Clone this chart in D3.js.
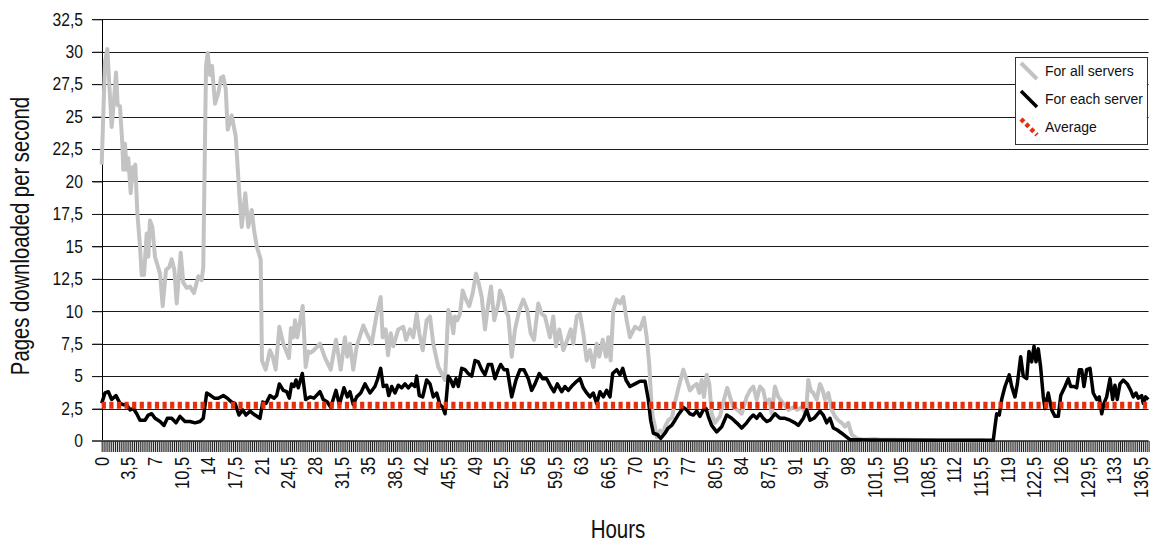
<!DOCTYPE html>
<html>
<head>
<meta charset="utf-8">
<script src="https://cdn.jsdelivr.net/npm/d3@7"></script>
<style>
  html, body { margin: 0; padding: 0; background: #fff; }
  svg { display: block; font-family: "Liberation Sans", Arial, sans-serif; }
</style>
</head>
<body>
<svg id="chart" width="1154" height="545"></svg>
<script>
// ---- data (hours, pages downloaded per second) ----
const allServers = [[0,21.3],[0.43,29.2],[0.74,30.2],[1.31,24.2],[1.62,26.3],[1.88,28.4],[2.1,25.9],[2.4,25.8],[2.71,22.9],[2.84,20.9],[3.06,22.9],[3.28,20.9],[3.49,21.8],[3.81,19.1],[4.07,21.1],[4.28,20.1],[4.41,21.3],[4.68,17.6],[5.03,15.0],[5.25,12.8],[5.56,12.8],[5.91,16.0],[6.12,14.2],[6.34,17.0],[6.65,16.5],[7.0,14.2],[7.66,12.9],[8.01,10.4],[8.45,13.2],[8.88,13.4],[9.19,14.0],[9.54,13.2],[9.85,10.6],[10.38,14.5],[10.72,12.2],[11.16,11.8],[11.6,11.9],[12.12,11.4],[12.69,12.7],[13.13,12.4],[13.34,13.4],[13.7,28.9],[13.92,29.9],[14.22,28.2],[14.49,28.9],[14.88,26.0],[15.31,26.8],[15.67,28.0],[15.97,28.1],[16.29,27.1],[16.55,24.0],[17.07,25.1],[17.6,23.5],[18.07,19.1],[18.39,16.5],[18.86,19.1],[19.25,16.5],[19.7,17.8],[20.0,16.3],[20.36,15.0],[20.88,14.0],[21.05,6.2],[21.54,5.5],[22.1,7.0],[22.46,6.5],[22.85,5.5],[23.33,8.8],[23.85,7.5],[24.6,6.4],[24.86,8.7],[25.16,8.0],[25.39,9.3],[25.69,8.0],[26.4,10.4],[26.79,5.7],[27.13,6.9],[27.45,6.8],[27.88,7.0],[28.67,7.5],[29.33,6.4],[30.08,5.5],[30.77,7.8],[31.39,5.5],[31.95,8.0],[32.26,6.5],[32.61,7.5],[33.04,5.5],[33.49,7.3],[34.36,8.9],[34.8,8.3],[35.46,7.5],[36.12,9.8],[36.64,11.1],[36.9,8.0],[37.3,8.6],[37.6,6.6],[37.96,8.3],[38.3,7.3],[38.95,8.6],[39.61,8.8],[39.97,7.8],[40.49,8.6],[40.92,8.0],[41.37,9.8],[41.71,8.3],[42.16,7.0],[42.68,9.3],[43.12,9.6],[43.55,7.5],[44.21,5.7],[44.65,5.2],[45.09,4.7],[45.52,10.1],[45.84,9.6],[46.18,8.3],[46.4,9.6],[46.7,9.3],[47.06,9.8],[47.41,11.6],[47.85,10.9],[48.28,10.4],[48.73,11.4],[49.16,12.9],[49.46,12.3],[49.91,11.1],[50.34,8.6],[50.77,10.6],[51.13,11.9],[51.56,9.3],[52.09,10.6],[52.31,11.6],[52.67,11.1],[53.01,10.1],[53.4,9.6],[53.85,6.5],[54.28,8.6],[54.85,10.1],[55.37,10.9],[55.9,10.1],[56.34,8.3],[56.78,7.8],[57.34,10.6],[57.79,9.8],[58.22,9.6],[58.88,8.0],[59.31,9.6],[59.67,7.3],[60.1,8.6],[60.63,7.0],[61.15,7.8],[61.6,8.6],[61.94,7.5],[62.39,9.6],[62.82,9.8],[63.25,8.3],[63.7,6.2],[64.13,7.0],[64.57,5.7],[65.01,7.5],[65.35,6.5],[65.8,7.8],[66.23,6.5],[66.54,8.0],[66.85,6.2],[67.19,10.1],[67.64,10.9],[68.07,10.6],[68.5,11.1],[68.95,9.3],[69.38,8.0],[70.04,8.8],[70.7,8.6],[71.22,9.5],[71.58,8.0],[71.9,6.0],[72.2,3.0],[72.37,1.9],[72.67,1.1],[72.89,0.3],[73.33,0.8],[73.76,0.6],[73.98,1.1],[74.42,1.6],[74.9,1.8],[75.3,3.0],[75.8,4.2],[76.39,5.5],[76.83,4.7],[77.26,3.9],[77.7,4.2],[78.15,4.4],[78.49,3.7],[78.8,4.7],[79.1,3.4],[79.46,5.1],[79.8,4.4],[80.11,2.1],[80.55,1.4],[81.2,1.9],[81.73,3.2],[82.16,4.1],[82.52,3.4],[82.95,2.6],[83.48,2.4],[84.06,2.1],[84.71,3.4],[85.15,3.9],[85.58,4.2],[86.03,3.2],[86.46,4.2],[86.89,3.9],[87.25,2.9],[87.68,3.2],[88.0,2.1],[88.43,4.2],[88.86,3.4],[89.52,2.9],[90.18,2.4],[90.83,2.6],[91.36,2.4],[91.94,2.6],[92.5,2.1],[92.8,4.7],[93.12,3.9],[93.46,3.7],[93.91,3.2],[94.34,4.4],[94.7,3.9],[95.0,3.2],[95.44,3.7],[95.88,2.4],[96.31,1.9],[96.74,1.6],[97.19,1.4],[97.62,1.1],[98.06,1.4],[98.5,0.5],[99.16,0.2],[100,0.1],[101.5,0.15],[102.2,0.1],[105,0.1],[110,0.05],[116,0.05]];

const eachServer = [[0,2.9],[0.43,3.7],[0.87,3.8],[1.31,3.2],[1.88,3.5],[2.4,2.9],[2.84,2.8],[3.28,2.8],[3.72,2.4],[4.15,2.5],[4.6,2.1],[5.03,1.6],[5.69,1.6],[6.12,2.0],[6.57,2.1],[7.0,1.75],[7.66,1.5],[8.18,1.2],[8.62,1.75],[9.19,1.75],[9.76,1.4],[10.28,1.9],[10.94,1.5],[11.6,1.5],[12.25,1.4],[12.91,1.5],[13.34,1.75],[13.79,3.7],[14.32,3.5],[14.79,3.3],[15.31,3.3],[15.97,3.5],[16.5,3.3],[17.07,3.0],[17.51,2.9],[18.03,2.0],[18.52,2.4],[18.95,2.0],[19.48,2.3],[20.13,2.0],[20.79,1.75],[21.15,3.0],[21.58,2.9],[22.1,3.5],[22.63,3.3],[22.98,3.5],[23.33,4.4],[23.85,3.9],[24.3,3.8],[24.64,3.3],[24.95,4.4],[25.26,4.2],[25.52,4.7],[25.82,4.1],[26.35,5.2],[26.79,3.2],[27.36,3.4],[27.88,3.3],[28.67,3.8],[29.1,3.2],[29.63,3.0],[30.08,2.6],[30.77,3.9],[31.21,2.8],[31.82,4.1],[32.26,3.4],[32.61,3.8],[33.04,2.8],[33.49,3.4],[34.02,3.7],[34.58,4.4],[35.24,3.7],[35.89,4.2],[36.2,4.7],[36.64,5.6],[36.98,4.2],[37.43,4.3],[37.7,3.5],[38.09,4.2],[38.52,3.7],[38.95,4.3],[39.4,4.1],[39.83,4.4],[40.27,4.1],[40.71,4.4],[41.15,4.2],[41.37,5.0],[41.71,3.5],[42.16,3.4],[42.68,4.7],[43.12,4.4],[43.55,3.4],[44.0,3.7],[44.43,2.8],[44.79,2.6],[45.09,2.1],[45.52,5.0],[45.84,4.7],[46.18,4.2],[46.53,4.8],[46.84,4.2],[47.28,5.6],[47.71,5.5],[48.15,5.2],[48.6,5.0],[49.03,6.2],[49.46,6.1],[49.91,5.5],[50.34,5.1],[50.77,5.9],[51.22,5.9],[51.65,4.8],[52.09,5.5],[52.4,5.9],[52.84,5.5],[53.27,5.5],[53.85,3.4],[54.41,4.7],[54.94,5.5],[55.46,5.5],[56.03,4.8],[56.47,3.9],[56.91,4.4],[57.47,5.2],[57.92,4.8],[58.44,4.8],[58.97,4.2],[59.4,3.8],[59.84,4.4],[60.41,3.8],[60.85,4.2],[61.28,3.9],[61.86,4.3],[62.39,4.6],[62.82,4.8],[63.25,4.1],[63.7,3.7],[64.13,3.4],[64.57,3.7],[65.01,2.9],[65.44,3.8],[65.88,3.4],[66.32,3.9],[66.76,3.4],[67.11,5.2],[67.64,5.5],[68.07,5.1],[68.43,5.6],[68.86,4.7],[69.38,4.2],[70.04,4.4],[70.7,4.6],[71.36,4.6],[71.79,3.2],[72.1,1.6],[72.45,0.6],[72.97,0.5],[73.42,0.2],[73.98,0.6],[74.4,1.0],[74.85,1.2],[75.3,1.6],[75.7,2.0],[76.2,2.4],[76.39,2.6],[76.83,2.4],[77.26,2.1],[77.7,2.0],[78.15,2.3],[78.57,1.9],[79.01,2.4],[79.37,2.5],[79.67,1.9],[80.11,1.2],[80.77,0.7],[81.43,1.1],[82.09,2.0],[82.74,1.75],[83.4,1.4],[84.06,1.0],[84.71,1.4],[85.15,1.75],[85.58,2.0],[86.03,1.75],[86.46,2.1],[86.89,1.75],[87.34,1.5],[87.77,1.6],[88.43,2.1],[89.08,1.75],[89.74,1.75],[90.4,1.6],[91.06,1.4],[91.49,1.2],[92.15,1.75],[92.59,2.4],[93.03,1.6],[93.55,1.75],[93.91,2.0],[94.34,2.3],[94.77,2.0],[95.22,1.4],[95.65,1.75],[96.09,1.0],[96.61,0.85],[97.19,0.6],[97.85,0.3],[98.28,0.1],[99.16,0.1],[101,0.08],[110,0.05],[117.1,0.05],[117.32,1.1],[117.55,2.1],[117.89,2.0],[118.2,3.2],[118.64,4.2],[119.2,5.1],[119.52,4.2],[119.95,3.4],[120.26,4.4],[120.7,6.5],[121.04,5.0],[121.49,4.8],[121.79,6.9],[122.14,6.1],[122.45,7.3],[122.71,6.1],[123.01,7.1],[123.32,5.7],[123.67,3.4],[123.89,2.5],[124.32,3.7],[124.77,2.4],[125.2,1.9],[125.64,1.9],[125.96,3.5],[126.52,4.2],[126.95,4.8],[127.27,4.2],[127.7,4.2],[128.05,4.1],[128.4,5.5],[128.71,5.5],[129.01,4.2],[129.37,5.5],[129.8,5.6],[130.23,3.7],[130.68,3.2],[131.02,3.4],[131.34,2.1],[131.64,2.9],[131.99,3.4],[132.43,4.8],[132.78,3.2],[133.08,4.3],[133.38,3.2],[133.74,4.4],[134.17,4.7],[134.7,4.4],[135.15,3.9],[135.49,3.4],[135.84,3.7],[136.15,3.3],[136.59,3.5],[136.8,2.9],[137.11,3.4],[137.46,3.2]];

const averageValue = 2.75;
const hourRange = [0, 137.5];
const yTickValues = [0, 2.5, 5, 7.5, 10, 12.5, 15, 17.5, 20, 22.5, 25, 27.5, 30, 32.5];
const xLabelStep = 3.5;
const xMinorStep = 0.25;
const legendLabels = ["For all servers", "For each server", "Average"];
const yTitle = "Pages downloaded per second";
const xTitle = "Hours";

// ---- drawing ----
const svg = d3.select("#chart");
const x = d3.scaleLinear().domain(hourRange).range([101.7, 1148.6]);
const y = d3.scaleLinear().domain([0, 32.5]).range([441, 19.3]);
const fmt = v => String(v).replace(".", ",");

// gridlines
svg.append("g")
  .selectAll("line").data(yTickValues.filter(v => v > 0)).join("line")
  .attr("x1", 92).attr("x2", x(hourRange[1]))
  .attr("y1", d => Math.round(y(d)) + 0.5).attr("y2", d => Math.round(y(d)) + 0.5)
  .attr("stroke", "#1a1a1a").attr("stroke-width", 1);

// y axis
const yAxis = svg.append("g").attr("transform", "translate(102.5,0)")
  .call(d3.axisLeft(y).tickValues(yTickValues).tickSize(10).tickFormat(""));
yAxis.select(".domain").attr("stroke", "#000").attr("d", `M0,${y(32.5)}V${y(0)}`);
yAxis.selectAll(".tick line").attr("stroke", "#1a1a1a");

svg.append("g").selectAll("text").data(yTickValues).join("text")
  .attr("transform", d => `translate(83,${y(d)}) scale(0.87,1)`)
  .attr("text-anchor", "end").attr("dy", "0.35em")
  .attr("font-size", 18).attr("fill", "#111")
  .text(fmt);

// x axis with minor ticks
const minorTicks = d3.range(hourRange[0], hourRange[1] + 0.001, xMinorStep);
const xAxis = svg.append("g").attr("transform", "translate(0,441)")
  .call(d3.axisBottom(x).tickValues(minorTicks).tickSize(11).tickFormat(""));
xAxis.select(".domain").attr("stroke", "#555").attr("stroke-width", 2)
  .attr("d", `M92,0H${x(hourRange[1])}`);
xAxis.selectAll(".tick line").attr("stroke", "#222").attr("stroke-width", 1.1);

const labelTicks = d3.range(0, 136.5 + 0.001, xLabelStep);
svg.append("g").selectAll("text").data(labelTicks).join("text")
  .attr("transform", d => `translate(${x(d) + 7},457) rotate(-90) scale(0.82,1)`)
  .attr("text-anchor", "end")
  .attr("font-size", 20).attr("fill", "#111")
  .text(d => fmt(Math.round(d * 10) / 10));

// series
const line = d3.line().x(d => x(d[0])).y(d => y(d[1]));
svg.append("path").datum(allServers).attr("d", line)
  .attr("fill", "none").attr("stroke", "#c3c3c3").attr("stroke-width", 4)
  .attr("stroke-linejoin", "round");
svg.append("path").datum(eachServer).attr("d", line)
  .attr("fill", "none").attr("stroke", "#000").attr("stroke-width", 3.5)
  .attr("stroke-linejoin", "round");
svg.append("path").datum([[hourRange[0], averageValue], [hourRange[1], averageValue]]).attr("d", line)
  .attr("fill", "none").attr("stroke", "#e4300e").attr("stroke-width", 7)
  .attr("stroke-dasharray", "4.2,3.4");

// legend
const lg = svg.append("g");
lg.append("rect").attr("x", 1015.5).attr("y", 57.5).attr("width", 132).attr("height", 87)
  .attr("fill", "#fff").attr("stroke", "#333").attr("stroke-width", 1);
const legendStyles = [
  {stroke: "#c3c3c3", width: 4, dash: null},
  {stroke: "#000", width: 3.5, dash: null},
  {stroke: "#e4300e", width: 4.5, dash: "4,3"}
];
legendLabels.forEach((lab, i) => {
  const cy = 71 + i * 28;
  const s = legendStyles[i];
  lg.append("line").attr("x1", 1021).attr("y1", cy - 8).attr("x2", 1037).attr("y2", cy + 8)
    .attr("stroke", s.stroke).attr("stroke-width", s.width)
    .attr("stroke-dasharray", s.dash);
  lg.append("text").attr("x", 1045).attr("y", cy + 5)
    .attr("font-size", 14).attr("fill", "#111").text(lab);
});

// titles
svg.append("text")
  .attr("transform", "translate(29,236) rotate(-90) scale(0.78,1)")
  .attr("text-anchor", "middle").attr("font-size", 26).attr("fill", "#111")
  .text(yTitle);
svg.append("text")
  .attr("transform", "translate(618,538) scale(0.79,1)")
  .attr("text-anchor", "middle").attr("font-size", 26).attr("fill", "#111")
  .text(xTitle);
</script>
</body>
</html>
